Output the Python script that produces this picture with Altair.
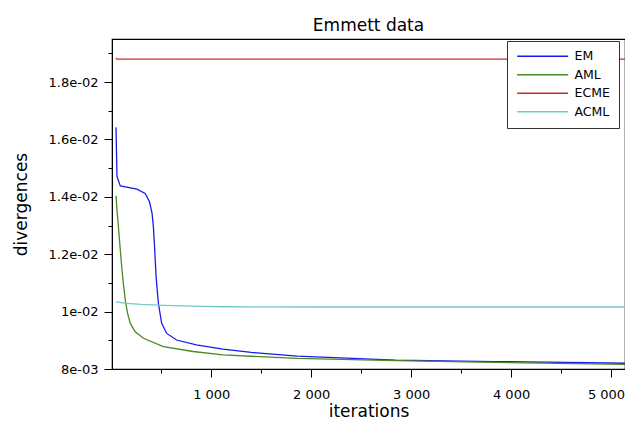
import altair as alt
import pandas as pd

# ---- data ----
series_names = ["EM", "AML", "ECME", "ACML"]
series_colors = ["#1a1aee", "#4a8a26", "#cc2a2a", "#74c9c9"]

em_iter = [47, 57, 90, 256, 339, 382, 408, 421, 431, 448, 471, 504, 554, 653, 851, 1116, 1400, 1860, 2846, 3839, 5140]
em_val = [0.01642, 0.01471, 0.01438, 0.01427, 0.01412, 0.01383, 0.01342, 0.01296, 0.01238, 0.01122, 0.01029,
          0.00959, 0.00924, 0.00901, 0.00884, 0.00869, 0.00858, 0.00845, 0.00831, 0.00826, 0.00820]

aml_iter = [47, 57, 74, 90, 107, 124, 140, 163, 190, 239, 322, 521, 818, 1116, 1860, 2846, 3839, 5140]
aml_val = [0.01404, 0.01354, 0.01284, 0.01215, 0.01145, 0.01087, 0.01040, 0.00994, 0.00959, 0.00930,
           0.00907, 0.00878, 0.00861, 0.00849, 0.00837, 0.00829, 0.00823, 0.00816]

ecme_iter = [47, 57, 5140]
ecme_val = [0.01884, 0.01880, 0.01880]

acml_iter = [47, 148, 300, 528, 800, 1116, 2000, 5140]
acml_val = [0.01034, 0.01029, 0.01025, 0.01022, 0.01019, 0.01017, 0.01016, 0.01016]

x_ticks = [500, 1000, 1500, 2000, 2500, 3000, 3500, 4000, 4500, 5000]
y_ticks = [0.008, 0.009, 0.010, 0.011, 0.012, 0.013, 0.014, 0.015, 0.016, 0.017, 0.018, 0.019]

rows = []
for name, its, vals in [("EM", em_iter, em_val), ("AML", aml_iter, aml_val),
                        ("ECME", ecme_iter, ecme_val), ("ACML", acml_iter, acml_val)]:
    for i, (it, v) in enumerate(zip(its, vals)):
        rows.append({"series": name, "iterations": it, "divergences": v, "order": i})
df = pd.DataFrame(rows)

FONT = "DejaVu Sans"

x_axis = alt.Axis(
    values=x_ticks,
    labelExpr="datum.value % 1000 == 0 ? replace(format(datum.value, ','), ',', ' ') : ''",
    tickSize={"condition": {"test": "datum.value % 1000 == 0", "value": 8}, "value": 4},
    labelOffset={"condition": {"test": "datum.value == 5000", "value": -5}, "value": 0},
    tickColor="black", domainColor="black", grid=False,
    labelFont=FONT, labelFontSize=13, labelColor="black", labelPadding=11,
    titleFont=FONT, titleFontSize=17, titleFontWeight="normal", titleColor="black", titlePadding=2,
    labelFlush=False,
)
y_axis = alt.Axis(
    values=y_ticks,
    labelExpr="round(datum.value*1000) % 2 == 0 ? replace(replace(format(datum.value, '.2~e'), 'e-2', 'e-02'), 'e-3', 'e-03') : ''",
    tickSize={"condition": {"test": "round(datum.value*1000) % 2 == 0", "value": 8}, "value": 4},
    tickColor="black", domainColor="black", grid=False,
    labelFont=FONT, labelFontSize=13, labelColor="black", labelPadding=6,
    titleFont=FONT, titleFontSize=17, titleFontWeight="normal", titleColor="black", titlePadding=18,
    labelFlush=False,
)

chart = alt.Chart(df).mark_line(strokeWidth=1.3, clip=True).encode(
    x=alt.X("iterations:Q", scale=alt.Scale(domain=[7, 5140], nice=False, zero=False), axis=x_axis, title="iterations"),
    y=alt.Y("divergences:Q", scale=alt.Scale(domain=[0.008, 0.0195], nice=False, zero=False), axis=y_axis, title="divergences"),
    color=alt.Color("series:N", scale=alt.Scale(domain=series_names, range=series_colors),
                    legend=alt.Legend(title=None, orient="none", legendX=395, legendY=2,
                                      symbolType="M-1,0H9", symbolSize=104, symbolStrokeWidth=1.3,
                                      labelFont=FONT, labelFontSize=12.5, labelColor="black",
                                      fillColor="white", strokeColor="#333333", padding=9,
                                      rowPadding=5.5, labelOffset=46)),
    order="order:Q",
    detail="series:N",
).properties(
    width=513, height=330,
    title=alt.Title("Emmett data", font=FONT, fontSize=17, fontWeight="normal", color="black",
                    anchor="middle", frame="group", offset=4),
    autosize=alt.AutoSizeParams(type="none"),
    padding={"left": 104, "top": 31, "right": 0, "bottom": 51},
).configure_view(stroke="black", strokeWidth=1.2)

chart.save("out.html", embed_options={"renderer": "svg", "actions": False})
